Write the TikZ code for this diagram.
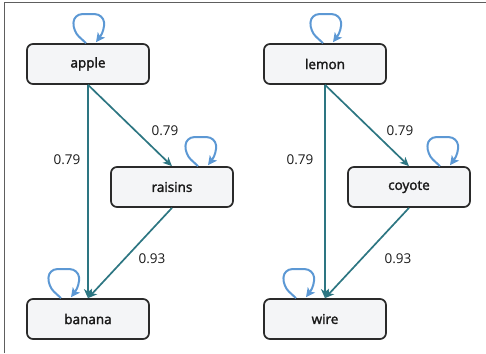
\documentclass[tikz,border=0pt]{standalone}
\usepackage{fontspec}
\setmainfont{Open Sans}
\newfontfamily\boxfont[FakeBold=2]{Open Sans}
\usetikzlibrary{arrows.meta}
\definecolor{edgeteal}{HTML}{2D7682}
\definecolor{loopblue}{HTML}{5C98D4}
\definecolor{boxfill}{HTML}{F4F5F7}
\definecolor{boxline}{HTML}{2A2A2A}
\definecolor{framegray}{HTML}{5E5E5E}
\tikzset{
  state/.style={draw=boxline, line width=1.7pt, fill=boxfill, rounded corners=6pt,
    minimum width=122pt, minimum height=40pt, inner sep=0pt,
    font=\boxfont\fontsize{13.5}{16}\selectfont, text=black!90},
  link/.style={draw=edgeteal, line width=1.7pt, -{Stealth[length=9pt,width=8pt,inset=2.5pt]}},
  selfloop/.style={draw=loopblue, line width=2pt, rounded corners=8pt,
    -{Stealth[length=9pt,width=9pt,inset=2pt]}},
  weight/.style={font=\fontsize{13.5}{16}\selectfont, text=black!90}
}
\begin{document}
\begin{tikzpicture}[x=1pt,y=-1pt]
\useasboundingbox (0,0) rectangle (486,353);
% frame lines on the top and left sides
\draw[framegray, line width=1.8pt] (4.5,353) -- (4.5,2.5) -- (486,2.5);

% left graph
\node[state] (apple)   at (88,64)  {apple};
\node[state] (raisins) at (172,187) {raisins};
\node[state] (banana)  at (88,319) {banana};
% right graph
\node[state] (lemon)   at (325,64)  {lemon};
\node[state] (coyote)  at (409,187) {coyote};
\node[state] (wire)    at (325,319) {wire};

% weighted edges
\draw[link] (apple.south) -- (banana.north);
\draw[link] (apple.south) -- (raisins.north);
\draw[link] (raisins.south) -- (banana.north);
\draw[link] (lemon.south) -- (wire.north);
\draw[link] (lemon.south) -- (coyote.north);
\draw[link] (coyote.south) -- (wire.north);

\node[weight] (w1) at (67,160)  {0.79};
\node[weight] (w2) at (165,131) {0.79};
\node[weight] (w3) at (152,259) {0.93};
\node[weight] (w4) at (300,160) {0.79};
\node[weight] (w5) at (400,131) {0.79};
\node[weight] (w6) at (398,259) {0.93};

% self loops, each anchored on the top edge of its box
\coordinate (la) at ([xshift=1pt]apple.north);
\coordinate (lr) at ([xshift=29pt]raisins.north);
\coordinate (lb) at ([xshift=-24pt]banana.north);
\coordinate (ll) at ([xshift=1pt]lemon.north);
\coordinate (lc) at ([xshift=34pt]coyote.north);
\coordinate (lw) at ([xshift=-26pt]wire.north);
\foreach \c in {la,lr,lb,ll,lc,lw}{
  \draw[selfloop] ([xshift=-3pt]\c) -- ++(-13,-12) -- ++(1,-17) -- ++(29,0)
    -- ++(2,16) -- ([xshift=7pt,yshift=1pt]\c);
}
\end{tikzpicture}
\end{document}
